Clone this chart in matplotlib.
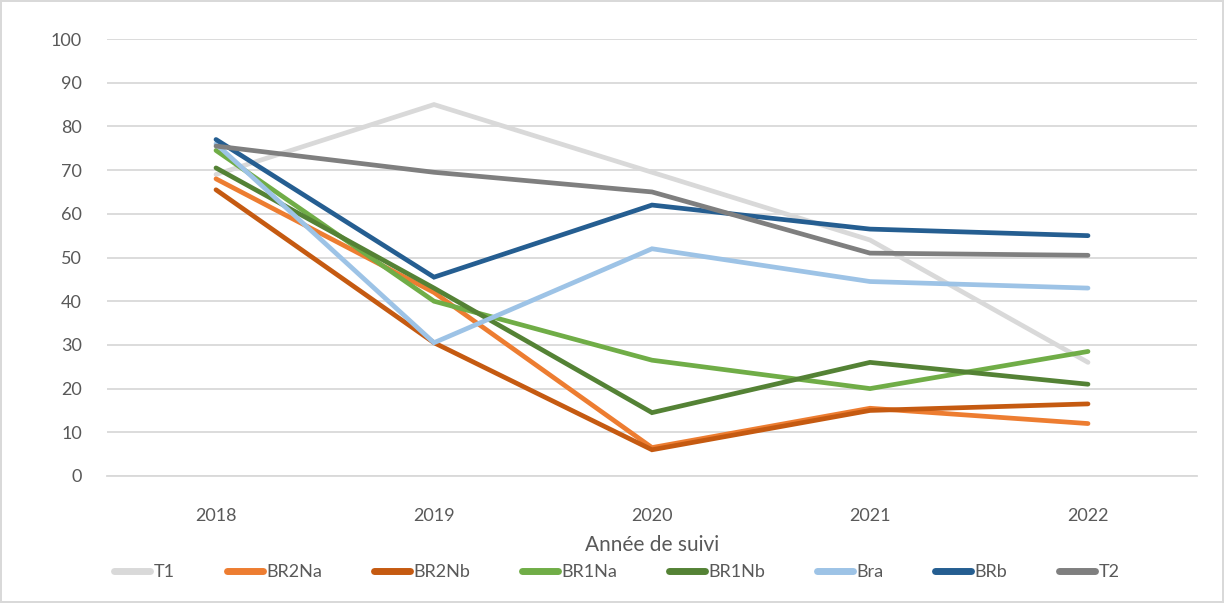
import matplotlib.pyplot as plt

years = ['2018', '2019', '2020', '2021', '2022']
t1 = [69, 85, 69.5, 54, 26]
br2na = [68, 42, 6.5, 15.5, 12]
br2nb = [65.5, 30.5, 6, 15, 16.5]
br1na = [74.5, 40, 26.5, 20, 28.5]
br1nb = [70.5, 43, 14.5, 26, 21]
bra = [76, 30.5, 52, 44.5, 43]
brb = [77, 45.5, 62, 56.5, 55]
t2 = [75.5, 69.5, 65, 51, 50.5]

series = [('T1', t1, '#d9d9d9'), ('BR2Na', br2na, '#ed7d31'), ('BR2Nb', br2nb, '#c55a11'),
          ('BR1Na', br1na, '#70ad47'), ('BR1Nb', br1nb, '#548235'), ('Bra', bra, '#9dc3e6'),
          ('BRb', brb, '#255e91'), ('T2', t2, '#7f7f7f')]

plt.rcParams['font.family'] = ['Lato', 'DejaVu Sans']

fig = plt.figure(figsize=(12.24, 6.03), dpi=100)
fig.patch.set_edgecolor('#d9d9d9')
fig.patch.set_linewidth(1.5)
ax = fig.add_axes([107 / 1224, 1 - 476 / 603, 1090 / 1224, 437 / 603])

x = list(range(len(years)))
for name, vals, col in series:
    ax.plot(x, vals, color=col, lw=3.4, label=name, solid_capstyle='round', solid_joinstyle='miter')

ax.set_xlim(-0.5, 4.5)
ax.set_ylim(0, 100)
ax.set_yticks(range(0, 101, 10))
ax.set_xticks(x)
ax.set_xticklabels(years)
ax.grid(axis='y', color='#d9d9d9', lw=1.3)
ax.set_axisbelow(True)
for s in ['top', 'right', 'left']:
    ax.spines[s].set_visible(False)
ax.spines['bottom'].set_color('#d9d9d9')
ax.spines['bottom'].set_linewidth(1.3)
ax.tick_params(length=0, labelsize=13, colors='#595959', pad=23)
ax.tick_params(axis='y', pad=18)
ax.set_xlabel('Année de suivi', fontsize=15, color='#595959', labelpad=8)

leg = fig.legend(*ax.get_legend_handles_labels(), loc='center',
                 bbox_to_anchor=(617 / 1224, 1 - 572 / 603), ncol=8, frameon=False,
                 fontsize=13, handlelength=2.0, handletextpad=0.2, columnspacing=2.85,
                 labelcolor='#595959')
for h in leg.get_lines():
    h.set_linewidth(5)

fig.savefig('out.png', dpi=100)
